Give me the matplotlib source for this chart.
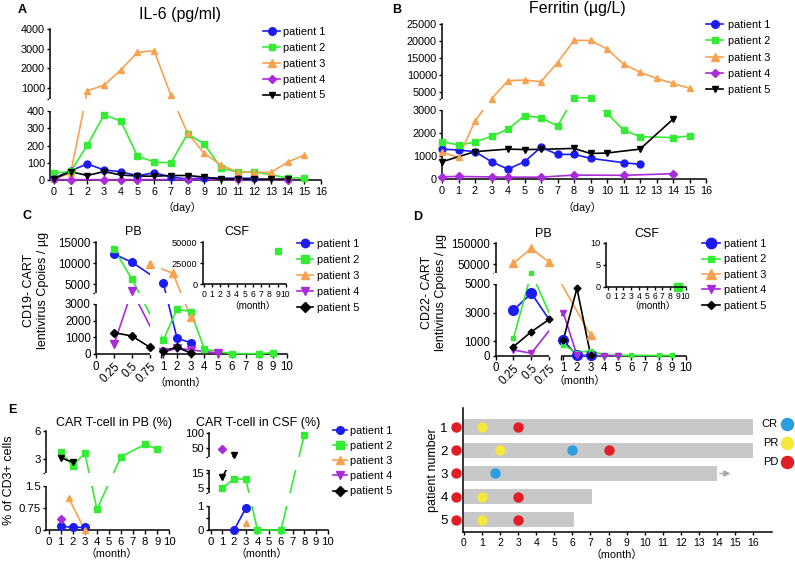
import numpy as np
import matplotlib
matplotlib.use('Agg')
import matplotlib.pyplot as plt
from matplotlib.patches import Rectangle
from matplotlib.lines import Line2D

plt.rcParams['font.family'] = ['Liberation Sans', 'Noto Sans CJK SC']
plt.rcParams['axes.linewidth'] = 1.1

W, H = 795, 562

names = ['patient 1', 'patient 2', 'patient 3', 'patient 4', 'patient 5']
colors = ['#1c1cf0', '#33ec33', '#f8a24f', '#a92bd9', '#000000']

# ---- A: IL-6 (pg/ml) by day ----
il6_x = [[0, 1, 2, 3, 4, 5, 6, 7, 8, 9, 11, 12],
         [0, 1, 2, 3, 4, 5, 6, 7, 8, 9, 10, 11, 12, 14, 15],
         list(range(16)),
         [0, 1, 3, 4, 5, 8, 11, 14],
         list(range(15))]
il6_y = [[10, 54, 93, 58, 48, 25, 42, 18, 5, 12, 10, 10],
         [40, 50, 203, 377, 342, 139, 104, 99, 267, 209, 70, 46, 48, 12, 12],
         [5, 40, 870, 1150, 1920, 2820, 2900, 650, 272, 155, 87, 46, 46, 44, 104, 145],
         [3, 2, 2, 2, 2, 3, 3, 2],
         [8, 48, 26, 49, 29, 23, 22, 26, 26, 17, 5, 5, 5, 5, 5]]

# ---- B: Ferritin (ug/L) by day ----
fer_x = [[0, 1, 2, 3, 4, 5, 6, 7, 8, 9, 11, 12],
         [0, 1, 2, 3, 4, 5, 6, 7, 8, 9, 10, 11, 12, 14, 15],
         list(range(16)),
         [0, 1, 3, 4, 6, 8, 11, 14],
         [0, 2, 4, 5, 6, 8, 9, 10, 12, 14]]
fer_y = [[1300, 1260, 1190, 750, 430, 750, 1380, 1070, 1070, 900, 710, 640],
         [1620, 1480, 1600, 1860, 2170, 2750, 2670, 2300, 3420, 3420, 2860, 2130, 1840, 1800, 1870],
         [1160, 940, 2520, 3100, 8400, 8600, 8100, 13700, 20200, 20200, 17700, 13300, 10860, 9100, 7600, 6170],
         [100, 110, 90, 80, 80, 170, 160, 230],
         [750, 1190, 1300, 1280, 1290, 1330, 1110, 1130, 1300, 2600]]

# ---- C: CD19- CART copies (month) ----
cd19_x = [[0.25, 0.5, 1, 2, 3],
          [0.25, 0.5, 1, 2, 3, 4, 6, 8, 9],
          [0.75, 1.7, 3],
          [0.25, 0.5, 1, 2, 3, 5],
          [0.25, 0.5, 0.75, 1, 2, 3]]
cd19_y = [[12200, 10240, 5240, 940, 680],
          [13400, 6190, 840, 2700, 2540, 280, 20, 20, 80],
          [9760, 7620, 2200],
          [580, 3480, 100, 350, 250, 50],
          [1280, 1080, 400, 200, 400, 60]]
cd19_csf_x = [9]
cd19_csf_y = [39600]

# ---- D: CD22- CART copies (month) ----
cd22_x = [[0.25, 0.5, 1, 2, 3],
          [0.25, 0.5, 1, 2, 3, 4, 5, 6, 8, 9],
          [0.25, 0.5, 0.75, 3],
          [0.25, 0.5, 1, 2, 3, 4, 5],
          [0.25, 0.5, 0.75, 1, 2, 3]]
cd22_y = [[3180, 4350, 1070, 20, 20],
          [1210, 10000, 750, 200, 350, 50, 30, 20, 20, 20],
          [55000, 126000, 59500, 1440],
          [400, 170, 3000, 50, 0, 0, 0],
          [630, 1670, 2540, 1090, 4700, 80]]
cd22_csf_x = [9]
cd22_csf_y = [0]

# ---- E: CAR T-cell % of CD3+ ----
pb_x = [[1, 2, 3], [1, 2, 3, 4, 6, 8, 9], [1.65, 3], [1], [1, 2]]
pb_y = [[0.13, 0.09, 0.09], [3.74, 2.32, 3.64, 0.70, 3.28, 4.58, 4.08], [1.09, 0.0], [0.36], [3.17, 2.68]]
csf_x = [[2, 3], [1, 2, 3, 4, 6, 8], [3], [1], [1, 2]]
csf_y = [[0, 0.9], [5, 11, 10.8, 0, 0, 94], [0.28], [47], [12, 28]]

# ---- swimmer plot ----
patients = [1, 2, 3, 4, 5]
follow_up = [16, 16, 14, 7.1, 6.1]
pr_patient, pr_month = [1, 2, 4, 5], [1, 2, 1, 1]
cr_patient, cr_month = [2, 3], [6, 1.7]
pd_patient, pd_month = [1, 2, 4, 5], [3, 8, 3, 3]

fig = plt.figure(figsize=(W / 100, H / 100), dpi=100)


def px_axes(l, t, r, b):
    return fig.add_axes([l / W, 1 - b / H, (r - l) / W, (b - t) / H])


def extrap(v, xp, fp):
    v = np.asarray(v, dtype=float)
    out = np.interp(v, xp, fp)
    out = np.where(v < xp[0], fp[0] + (v - xp[0]) * (fp[1] - fp[0]) / (xp[1] - xp[0]), out)
    out = np.where(v > xp[-1], fp[-1] + (v - xp[-1]) * (fp[-1] - fp[-2]) / (xp[-1] - xp[-2]), out)
    return out


def piecewise(ax, which, dk, sk):
    d = np.array(dk, float)
    s = np.array(sk, float)
    funcs = (lambda v: extrap(v, d, s), lambda v: extrap(v, s, d))
    if which == 'y':
        ax.set_yscale('function', functions=funcs)
    else:
        ax.set_xscale('function', functions=funcs)


def ygap(ax, lo, hi):
    e = 1.4 / (ax.get_position().width * W)
    ax.add_patch(Rectangle((-e, lo), 1 + 2 * e, hi - lo, transform=ax.get_yaxis_transform(),
                           fc='white', ec='none', zorder=2.8, clip_on=False))


def xgap(ax, lo, hi):
    e = 1.4 / (ax.get_position().height * H)
    ax.add_patch(Rectangle((lo, -e), hi - lo, 1 + 2 * e, transform=ax.get_xaxis_transform(),
                           fc='white', ec='none', zorder=2.8, clip_on=False))


def style(ax, fs, xlen=3.2, ylen=2.5):
    ax.spines['top'].set_visible(False)
    ax.spines['right'].set_visible(False)
    ax.tick_params(axis='y', length=ylen, width=1, pad=1.2, labelsize=fs)
    ax.tick_params(axis='x', length=xlen, width=1, pad=1.5, labelsize=fs)


def draw(ax, xs, ys, markers, sizes):
    # lines sit under the break masks, markers stay on top
    handles = []
    for i in range(5):
        ax.plot(xs[i], ys[i], color=colors[i], lw=1.2, clip_on=False, zorder=2.7)
        ax.plot(xs[i], ys[i], ls='none', color=colors[i], marker=markers[i], ms=sizes[i],
                clip_on=False, zorder=2.9)
        handles.append(Line2D([], [], color=colors[i], marker=markers[i], ms=sizes[i] + 0.5, lw=1.2))
    return handles


def legend(ax, handles, x, y, line_px, pad_px, spacing):
    fs = 7.8
    fpx = fs * 100 / 72
    ax.legend(handles, names, loc='upper left', bbox_to_anchor=(x / W, 1 - y / H),
              bbox_transform=fig.transFigure, frameon=False, fontsize=fs, borderpad=0,
              borderaxespad=0, handlelength=line_px / fpx, handletextpad=pad_px / fpx,
              labelspacing=spacing)


def txt(x, y, s, **kw):
    kw.setdefault('ha', 'center')
    kw.setdefault('va', 'center')
    fig.text(x / W, 1 - y / H, s, **kw)


# ---------------- A ----------------
axA = px_axes(50, 29, 321, 180)
piecewise(axA, 'y', [0, 400, 450, 4000], [0, 69, 81, 151])
hA = draw(axA, il6_x, il6_y, ['o', 's', '^', 'D', 'v'], [5, 4.3, 5, 4, 4.5])
axA.set_xlim(-0.24, 16)
axA.set_ylim(0, 4000)
axA.set_xticks(range(17))
axA.set_yticks([0, 100, 200, 300, 400, 450, 1000, 2000, 3000, 4000],
               labels=['0', '100', '200', '300', '400', '', '1000', '2000', '3000', '4000'])
style(axA, 7.8)
ygap(axA, 400, 450)
legend(axA, hA, 263, 27, 17, 3, 0.54)
txt(180, 15, 'IL-6 (pg/ml)', fontsize=11.5)
txt(182, 207, '（day）', fontsize=7.8)

# ---------------- B ----------------
axB = px_axes(442, 24, 706, 179)
piecewise(axB, 'y', [0, 3000, 3040, 25000], [0, 69, 80, 155])
hB = draw(axB, fer_x, fer_y, ['o', 's', '^', 'D', 'v'], [5, 4.3, 5, 4, 4.5])
axB.set_xlim(0, 16)
axB.set_ylim(0, 25000)
axB.set_xticks(range(17))
axB.set_yticks([0, 1000, 2000, 3000, 3040, 5000, 10000, 15000, 20000, 25000],
               labels=['0', '1000', '2000', '3000', '', '5000', '10000', '15000', '20000', '25000'])
style(axB, 7.8)
ygap(axB, 3000, 3040)
legend(axB, hB, 706, 20, 17, 5, 0.58)
txt(577, 8, 'Ferritin (µg/L)', fontsize=11.5)
txt(582, 207, '（day）', fontsize=7.8)

# ---------------- C ----------------
month_ticks = [0, 0.25, 0.5, 0.75, 0.83] + list(range(1, 11))
month_labels = ['0', '0.25', '0.5', '0.75', ''] + [str(m) for m in range(1, 11)]

axC = px_axes(96, 242.3, 286.7, 354)
piecewise(axC, 'x', [0, 0.75, 0.83, 10], [0, 54, 65, 190.7])
piecewise(axC, 'y', [0, 3000, 3050, 15000], [0, 50, 61.5, 111.7])
hC = draw(axC, cd19_x, cd19_y, ['o', 's', '^', 'v', 'D'], [5.5, 5, 5.5, 5.5, 4.5])
axC.set_xlim(0, 10)
axC.set_ylim(0, 15000)
axC.set_xticks(month_ticks, labels=month_labels)
axC.set_yticks([0, 1000, 2000, 3000, 3050, 5000, 10000, 15000],
               labels=['0', '1000', '2000', '3000', '', '5000', '10000', '15000'])
style(axC, 8.3)
for lab in axC.get_xticklabels()[1:4]:
    lab.set_rotation(45)
    lab.set_ha('right')
    lab.set_rotation_mode('anchor')
xgap(axC, 0.75, 0.83)
ygap(axC, 3000, 3050)
legend(axC, hC, 297, 239, 16, 4, 0.56)
txt(133, 232, 'PB', fontsize=9)
txt(237, 232, 'CSF', fontsize=9)
txt(181, 383, '（month）', fontsize=7.8)
txt(36, 290, 'CD19- CART\nlentivirus Cpoies / µg', fontsize=9, rotation=90, linespacing=1.25)

axCi = px_axes(202.7, 242.3, 285.7, 284.3)
axCi.plot(cd19_csf_x, cd19_csf_y, 's', color=colors[1], ms=4.5, clip_on=False)
axCi.set_xlim(-0.15, 10)
axCi.set_ylim(0, 50000)
axCi.set_xticks(range(11))
axCi.set_yticks([0, 25000, 50000])
style(axCi, 6.2, xlen=2.5)
axCi.tick_params(axis='y', labelsize=6.6)
txt(253, 306, '（month）', fontsize=7)

# ---------------- D ----------------
axD = px_axes(495.5, 243.3, 685.7, 355.7)
piecewise(axD, 'x', [0, 0.75, 0.83, 10], [0, 53.8, 65.5, 190.2])
piecewise(axD, 'y', [0, 5000, 7100, 150000], [0, 71.7, 82.4, 112.4])
hD = draw(axD, cd22_x, cd22_y, ['o', 's', '^', 'v', 'D'], [7, 3.5, 6, 5, 3.5])
axD.set_xlim(0, 10)
axD.set_ylim(0, 150000)
axD.set_xticks(month_ticks, labels=month_labels)
axD.set_yticks([0, 1000, 3000, 5000, 7100, 50000, 150000],
               labels=['0', '1000', '3000', '5000', '', '50000', '150000'])
style(axD, 8.3)
for lab in axD.get_xticklabels()[1:4]:
    lab.set_rotation(45)
    lab.set_ha('right')
    lab.set_rotation_mode('anchor')
xgap(axD, 0.75, 0.83)
ygap(axD, 5000, 7100)
legend(axD, hD, 702, 239, 18, 4, 0.5)
txt(543, 234, 'PB', fontsize=9)
txt(647, 234, 'CSF', fontsize=9)
txt(580, 381, '（month）', fontsize=7.8)
txt(434, 292, 'CD22- CART\nlentivirus Cpoies / µg', fontsize=9, rotation=90, linespacing=1.25)

axDi = px_axes(606, 242.7, 685.7, 286.7)
axDi.plot(cd22_csf_x, cd22_csf_y, 's', color=colors[1], ms=6, clip_on=False)
axDi.set_xlim(-0.22, 10)
axDi.set_ylim(0, 10)
axDi.set_xticks(range(11))
axDi.set_yticks([0, 5, 10])
style(axDi, 6.2, xlen=2.5)
axDi.tick_params(axis='y', labelsize=6.6)
txt(652, 306, '（month）', fontsize=7)

# ---------------- E ----------------
axE1 = px_axes(46.2, 431, 169.3, 530)
piecewise(axE1, 'y', [0, 1.5, 1.5001, 6], [0, 44.3, 56.6, 99])
draw(axE1, pb_x, pb_y, ['o', 's', '^', 'D', 'v'], [5.5, 5, 5, 4, 5])
axE1.set_xlim(-0.2, 10)
axE1.set_ylim(0, 6)
axE1.set_xticks(range(11))
axE1.set_yticks([0, 0.75, 1.5, 1.5001, 3, 6], labels=['0', '0.75', '1.5', '', '3', '6'])
style(axE1, 8.2)
ygap(axE1, 1.5, 1.5001)
txt(114, 423, 'CAR T-cell in PB (%)', fontsize=9)
txt(112, 554, '（month）', fontsize=7.8)
txt(9, 480, '% of CD3+ cells', fontsize=9, rotation=90)

axE2 = px_axes(209, 433.3, 327.7, 530)
piecewise(axE2, 'y', [0, 1, 2, 17, 22, 100], [0, 24, 37.3, 60.4, 73.3, 96.7])
draw(axE2, csf_x, csf_y, ['o', 's', '^', 'D', 'v'], [5.5, 5, 5, 4, 5])
axE2.set_xlim(-0.14, 10)
axE2.set_ylim(0, 100)
axE2.set_xticks(range(11))
axE2.set_yticks([0, 0.5, 1, 2, 5, 15, 17, 22, 50, 100],
                labels=['0', '', '1', '', '5', '15', '', '', '50', '100'])
style(axE2, 8.2)
ygap(axE2, 1, 2)
ygap(axE2, 17, 22)
txt(258, 423, 'CAR T-cell in CSF (%)', fontsize=9)
txt(262, 554, '（month）', fontsize=7.8)
# the legend of panel E shows patient 4 as a down triangle and patient 5 as a diamond
hE = [Line2D([], [], color=c, marker=m, ms=5.5, lw=1.2)
      for c, m in zip(colors, ['o', 's', '^', 'v', 'D'])]
legend(axE2, hE, 333, 426, 14, 3, 0.47)

# ---------------- swimmer ----------------
axF = px_axes(463, 408, 772, 532)
axF.barh(patients, follow_up, height=0.65, color='#c8c8c8', zorder=1)
axF.annotate('', xy=(14.9, 3), xytext=(14.0, 3),
             arrowprops=dict(arrowstyle='-|>', color='#a8a8a8', lw=1, mutation_scale=9))
axF.scatter(np.zeros(5) - 0.46, patients, s=42, color='#e21d24', zorder=3, clip_on=False)
axF.scatter(pr_month, pr_patient, s=42, color='#f6e73a', zorder=3)
axF.scatter(cr_month, cr_patient, s=42, color='#2a9ee0', zorder=3)
axF.scatter(pd_month, pd_patient, s=42, color='#e21d24', zorder=3)
axF.set_xlim(-0.055, 17.05)
axF.set_ylim(5.52, 0.18)
axF.set_xticks(range(17))
axF.set_yticks(patients)
axF.spines['top'].set_visible(False)
axF.spines['right'].set_visible(False)
axF.tick_params(axis='x', length=2.5, width=1, pad=1.5, labelsize=7.5)
axF.tick_params(axis='y', length=0, pad=11, labelsize=9.5)
axF.set_ylabel('patient number', fontsize=9, labelpad=1)
txt(617, 555, '（month）', fontsize=7.8)
for lab, c, y in [('CR', '#2a9ee0', 424), ('PR', '#f6e73a', 443), ('PD', '#e21d24', 462)]:
    txt(778, y, lab, ha='right', fontsize=8)
    fig.add_artist(Line2D([787 / W], [1 - y / H], marker='o', ms=8.7, color=c,
                          transform=fig.transFigure, lw=0))

# panel letters
for x, y, s in [(22, 10, 'A'), (397, 10, 'B'), (27, 216, 'C'), (418, 217, 'D'), (12, 410, 'E')]:
    txt(x, y, s, fontsize=9, fontweight='bold')

fig.savefig('out.png', dpi=100)
